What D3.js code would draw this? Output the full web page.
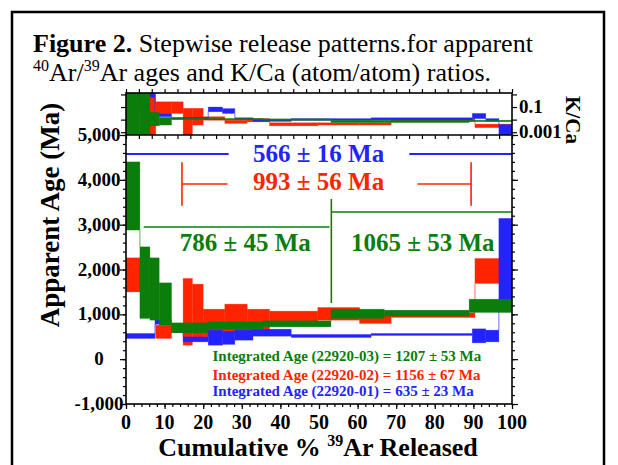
<!DOCTYPE html>
<html>
<head>
<meta charset="utf-8">
<script src="https://cdn.jsdelivr.net/npm/d3@7"></script>
<style>
  body { margin: 0; background: #fff; }
  svg text { font-family: "Liberation Serif", "Times New Roman", serif; }
</style>
</head>
<body>
<div id="chart"></div>
<script>
// step boundaries (cumulative % 39Ar) and ages / K/Ca ranges per step
var greenEdges = [0, 3.6, 6.2, 8.6, 11.8, 21.3, 35.5, 53.1, 66.9, 88.9, 100];
var greenAgeLo = [2880, 908, 870, 758, 587, 662, 720, 908, 960, 1042];
var greenAgeHi = [4400, 2505, 2260, 1702, 810, 832, 855, 1115, 1093, 1338];
var greenKcaLo = [0.0003, 0.0003, 0.0032, 0.0037, 0.011, 0.0105, 0.0095, 0.0058, 0.0058, 0.007];
var greenKcaHi = [3, 3, 0.038, 0.015, 0.013, 0.0125, 0.0115, 0.009, 0.009, 0.009];

var redEdges = [0, 3.8, 7.7, 11.8, 14.8, 17.2, 20.0, 25.6, 31.4, 37.2, 49.7, 60.5, 68.7, 90.4, 100];
var redAgeLo = [1500, 1100, 462, 600, 312, 462, 497, 573, 535, 796, 870, 796, 930, 1689];
var redAgeHi = [2260, 1450, 758, 800, 1800, 1673, 1115, 1227, 1115, 1071, 1153, 1020, 1033, 2246];
var redKcaLo = [0.05, 0.0003, 0.031, 0.031, 0.0003, 0.0037, 0.009, 0.005, 0.0066, 0.0032, 0.0037, 0.0037, 0.0075, 0.0023];
var redKcaHi = [0.5, 3, 0.26, 0.26, 0.079, 0.079, 0.017, 0.009, 0.012, 0.0056, 0.0056, 0.0056, 0.012, 0.0044];

var blueEdges = [0, 7.5, 11.8, 14.8, 21.3, 25.0, 28.2, 32.9, 42.8, 63.5, 89.7, 93.2, 96.6, 100];
var blueAgeLo = [462, 780, 600, 386, 312, 330, 424, 513, 484, 529, 364, 386, 1055];
var blueAgeHi = [573, 880, 720, 497, 647, 620, 647, 669, 551, 573, 676, 647, 3140];
var blueKcaLo = [0.6, 0.017, 0.011, 0.011, 0.042, 0.031, 0.011, 0.0075, 0.0087, 0.0094, 0.012, 0.0075, 0.0003];
var blueKcaHi = [2, 0.031, 0.015, 0.015, 0.1, 0.075, 0.014, 0.0095, 0.012, 0.014, 0.031, 0.012, 0.004];

// plateau bars: [x from %, x to %], level in Ma
var bluePlateau = [[0, 26.6], [73.4, 100]];
var bluePlateauAge = 4576;
var redPlateau = [[14.5, 26.3], [75.5, 89.4]];
var redPlateauAge = 3907;
var redPlateauTick = [3420, 4390];
var greenPlateau1 = [4.6, 52.7];
var greenPlateau1Age = 2948;
var greenPlateau2 = [53.2, 100];
var greenPlateau2Age = 3282;
var greenDivide = [1253, 3572];

var plateauText = ["566 \u00b1 16 Ma", "993 \u00b1 56 Ma", "786 \u00b1 45 Ma", "1065 \u00b1 53 Ma"];
var integratedText = [
  "Integrated Age (22920-03) = 1207 \u00b1 53 Ma",
  "Integrated Age (22920-02) = 1156 \u00b1 67 Ma",
  "Integrated Age (22920-01) = 635 \u00b1 23 Ma"
];

var ageTicks = [-1000, 0, 1000, 2000, 3000, 4000, 5000];
var pctTicks = [0, 10, 20, 30, 40, 50, 60, 70, 80, 90, 100];
var kcaTicks = [0.001, 0.01, 0.1, 1];
var kcaLabels = [0.1, 0.001];

var GREEN = "#0b7d0b", RED = "#ff2400", BLUE = "#2323ff";

var svgWidth = 618, svgHeight = 465;
var svg = d3.select("#chart").append("svg")
    .attr("width", svgWidth)
    .attr("height", svgHeight);

// scales
var x = d3.scaleLinear().domain([0, 100]).range([126, 512]);
var y = d3.scaleLinear().domain([-1000, 5000]).range([404, 135]);
var k = d3.scaleLog().domain([0.0006, 1.3]).range([135, 93]);

// frame around figure
svg.append("path")
    .attr("d", "M12,465 L12,12 L604,12 L604,465")
    .attr("fill", "none").attr("stroke", "#000").attr("stroke-width", 2.5);

// title
var t1 = svg.append("text").attr("x", 33).attr("y", 52).style("font-size", "26px");
t1.append("tspan").style("font-weight", "bold").text("Figure 2.");
t1.append("tspan").text(" Stepwise release patterns.for apparent");
var t2 = svg.append("text").attr("x", 33).attr("y", 81).style("font-size", "26px");
t2.append("tspan").attr("dy", -10).style("font-size", "16px").text("40");
t2.append("tspan").attr("dy", 10).text("Ar/");
t2.append("tspan").attr("dy", -10).style("font-size", "16px").text("39");
t2.append("tspan").attr("dy", 10).text("Ar ages and K/Ca (atom/atom) ratios.");

// clip paths
var defs = svg.append("defs");
defs.append("clipPath").attr("id", "clipTop").append("rect")
    .attr("x", 126).attr("y", 93).attr("width", 386).attr("height", 42);
defs.append("clipPath").attr("id", "clipMain").append("rect")
    .attr("x", 126).attr("y", 135).attr("width", 386).attr("height", 269);

var topG = svg.append("g").attr("clip-path", "url(#clipTop)");
var mainG = svg.append("g").attr("clip-path", "url(#clipMain)");

function steps(edges, lo, hi) {
  return lo.map(function(v, i) {
    return { x0: edges[i], x1: edges[i + 1], lo: v, hi: hi[i] };
  });
}

function drawSeries(g, data, scale, color) {
  // thin connectors between steps
  var links = [];
  for (var i = 0; i < data.length - 1; i++) {
    var a = data[i], b = data[i + 1];
    if (a.hi < b.lo) links.push({ x: a.x1, y0: a.hi, y1: b.lo });
    else if (a.lo > b.hi) links.push({ x: a.x1, y0: a.lo, y1: b.hi });
  }
  g.append("g").selectAll("line")
    .data(links)
    .enter()
    .append("line")
    .attr("x1", function(d) { return x(d.x); })
    .attr("x2", function(d) { return x(d.x); })
    .attr("y1", function(d) { return scale(d.y0); })
    .attr("y2", function(d) { return scale(d.y1); })
    .attr("stroke", color).attr("stroke-opacity", 0.55).attr("stroke-width", 1.2);

  g.append("g").selectAll("rect")
    .data(data)
    .enter()
    .append("rect")
    .attr("x", function(d) { return x(d.x0); })
    .attr("width", function(d) { return x(d.x1) - x(d.x0); })
    .attr("y", function(d) { return scale(d.hi); })
    .attr("height", function(d) { return Math.max(1.5, scale(d.lo) - scale(d.hi)); })
    .attr("fill", color)
    .attr("stroke", color).attr("stroke-opacity", 0.5).attr("stroke-width", 0.6);
}

// order: red, blue, green on top
drawSeries(topG, steps(redEdges, redKcaLo, redKcaHi), k, RED);
drawSeries(topG, steps(blueEdges, blueKcaLo, blueKcaHi), k, BLUE);
drawSeries(topG, steps(greenEdges, greenKcaLo, greenKcaHi), k, GREEN);

drawSeries(mainG, steps(redEdges, redAgeLo, redAgeHi), y, RED);
drawSeries(mainG, steps(blueEdges, blueAgeLo, blueAgeHi), y, BLUE);
drawSeries(mainG, steps(greenEdges, greenAgeLo, greenAgeHi), y, GREEN);

// plateau annotations
var ann = svg.append("g");
ann.selectAll(".bp").data(bluePlateau).enter().append("line")
    .attr("x1", function(d) { return x(d[0]); })
    .attr("x2", function(d) { return x(d[1]); })
    .attr("y1", y(bluePlateauAge)).attr("y2", y(bluePlateauAge))
    .attr("stroke", BLUE).attr("stroke-width", 2);
ann.selectAll(".rp").data(redPlateau).enter().append("line")
    .attr("x1", function(d) { return x(d[0]); })
    .attr("x2", function(d) { return x(d[1]); })
    .attr("y1", y(redPlateauAge)).attr("y2", y(redPlateauAge))
    .attr("stroke", RED).attr("stroke-width", 1.6);
ann.selectAll(".rt").data([redPlateau[0][0], redPlateau[1][1]]).enter().append("line")
    .attr("x1", function(d) { return x(d); })
    .attr("x2", function(d) { return x(d); })
    .attr("y1", y(redPlateauTick[0])).attr("y2", y(redPlateauTick[1]))
    .attr("stroke", RED).attr("stroke-width", 1.6);
ann.append("line")
    .attr("x1", x(greenPlateau1[0])).attr("x2", x(greenPlateau1[1]))
    .attr("y1", y(greenPlateau1Age)).attr("y2", y(greenPlateau1Age))
    .attr("stroke", GREEN).attr("stroke-width", 1.6);
ann.append("line")
    .attr("x1", x(greenPlateau2[0])).attr("x2", x(greenPlateau2[1]))
    .attr("y1", y(greenPlateau2Age)).attr("y2", y(greenPlateau2Age))
    .attr("stroke", GREEN).attr("stroke-width", 1.6);
ann.append("line")
    .attr("x1", x(greenPlateau2[0])).attr("x2", x(greenPlateau2[0]))
    .attr("y1", y(greenDivide[0])).attr("y2", y(greenDivide[1]))
    .attr("stroke", GREEN).attr("stroke-width", 1.6);

function bigLabel(txt, px, age, color) {
  ann.append("text")
    .attr("x", x(px)).attr("y", y(age))
    .attr("text-anchor", "middle")
    .style("font-size", "25px").style("font-weight", "bold")
    .attr("fill", color)
    .text(txt);
}
bigLabel(plateauText[0], 49.9, 4398, BLUE);
bigLabel(plateauText[1], 49.9, 3773, RED);
bigLabel(plateauText[2], 30.9, 2413, GREEN);
bigLabel(plateauText[3], 76.9, 2413, GREEN);

var integColors = [GREEN, RED, BLUE];
var integAges = [-52, -470, -830];
ann.selectAll(".integ").data(integratedText).enter().append("text")
    .attr("x", x(22.4))
    .attr("y", function(d, i) { return y(integAges[i]); })
    .style("font-size", "15px").style("font-weight", "bold")
    .attr("fill", function(d, i) { return integColors[i]; })
    .text(function(d) { return d; });

// axes
function styleAxis(g) {
  g.select(".domain").remove();
  g.selectAll(".tick line").attr("stroke", "#000").attr("stroke-width", 1.2);
}
var minorAge = d3.range(-1000, 5001, 200);
var minorPct = d3.range(0, 101, 2);
var topPct = d3.range(0, 100.01, 10 / 3);

svg.append("g").attr("transform", "translate(126,0)")
    .call(d3.axisLeft(y).tickValues(ageTicks).tickSize(6).tickFormat(""))
    .call(styleAxis);
svg.append("g").attr("transform", "translate(126,0)")
    .call(d3.axisLeft(y).tickValues(minorAge).tickSize(3).tickFormat(""))
    .call(styleAxis);
svg.append("g").attr("transform", "translate(512,0)")
    .call(d3.axisRight(y).tickValues(ageTicks).tickSize(6).tickFormat(""))
    .call(styleAxis);
svg.append("g").attr("transform", "translate(512,0)")
    .call(d3.axisRight(y).tickValues(minorAge).tickSize(3).tickFormat(""))
    .call(styleAxis);
svg.append("g").attr("transform", "translate(0,404)")
    .call(d3.axisBottom(x).tickValues(pctTicks).tickSize(5).tickFormat(""))
    .call(styleAxis);
svg.append("g").attr("transform", "translate(0,404)")
    .call(d3.axisBottom(x).tickValues(minorPct).tickSize(3).tickFormat(""))
    .call(styleAxis);

// K/Ca panel axes
svg.append("g").attr("transform", "translate(126,0)")
    .call(d3.axisLeft(k).tickValues(kcaTicks).tickSize(5).tickFormat(""))
    .call(styleAxis);
svg.append("g").attr("transform", "translate(512,0)")
    .call(d3.axisRight(k).tickValues(kcaTicks).tickSize(5).tickFormat(""))
    .call(styleAxis);
svg.append("g").attr("transform", "translate(0,93)")
    .call(d3.axisTop(x).tickValues(topPct).tickSize(4).tickFormat(""))
    .call(styleAxis);
svg.append("g").attr("transform", "translate(0,135)")
    .call(d3.axisBottom(x).tickValues(topPct).tickSize(4).tickFormat(""))
    .call(styleAxis);

// frame lines
svg.append("rect").attr("x", 126).attr("y", 93).attr("width", 386).attr("height", 311)
    .attr("fill", "none").attr("stroke", "#000").attr("stroke-width", 1.6);
svg.append("line").attr("x1", 126).attr("x2", 512).attr("y1", 135).attr("y2", 135)
    .attr("stroke", "#000").attr("stroke-width", 1.6);

// tick labels
svg.append("g").selectAll("text")
    .data(ageTicks)
    .enter()
    .append("text")
    .attr("x", 99)
    .attr("y", function(d) { return y(d) + 6; })
    .attr("text-anchor", "middle")
    .style("font-size", "19px").style("font-weight", "bold")
    .text(function(d) { return d3.format(",")(d).replace("\u2212", "-"); });

svg.append("g").selectAll("text")
    .data(pctTicks)
    .enter()
    .append("text")
    .attr("x", function(d) { return x(d); })
    .attr("y", 429)
    .attr("text-anchor", "middle")
    .style("font-size", "20px").style("font-weight", "bold")
    .text(function(d) { return d; });

svg.append("g").selectAll("text")
    .data(kcaLabels)
    .enter()
    .append("text")
    .attr("x", 519)
    .attr("y", function(d) { return k(d) + 6; })
    .style("font-size", "19px").style("font-weight", "bold")
    .text(function(d) { return d; });

// axis titles
svg.append("text")
    .attr("transform", "translate(59,215) rotate(-90)")
    .attr("text-anchor", "middle")
    .style("font-size", "27px").style("font-weight", "bold")
    .text("Apparent Age (Ma)");

svg.append("text")
    .attr("transform", "translate(566,120) rotate(90)")
    .attr("text-anchor", "middle")
    .style("font-size", "21px").style("font-weight", "bold")
    .text("K/Ca");

var xt = svg.append("text")
    .attr("x", 318).attr("y", 456)
    .attr("text-anchor", "middle")
    .style("font-size", "26px").style("font-weight", "bold");
xt.append("tspan").text("Cumulative % ");
xt.append("tspan").attr("dy", -10).style("font-size", "16px").text("39");
xt.append("tspan").attr("dy", 10).text("Ar Released");
</script>
</body>
</html>
